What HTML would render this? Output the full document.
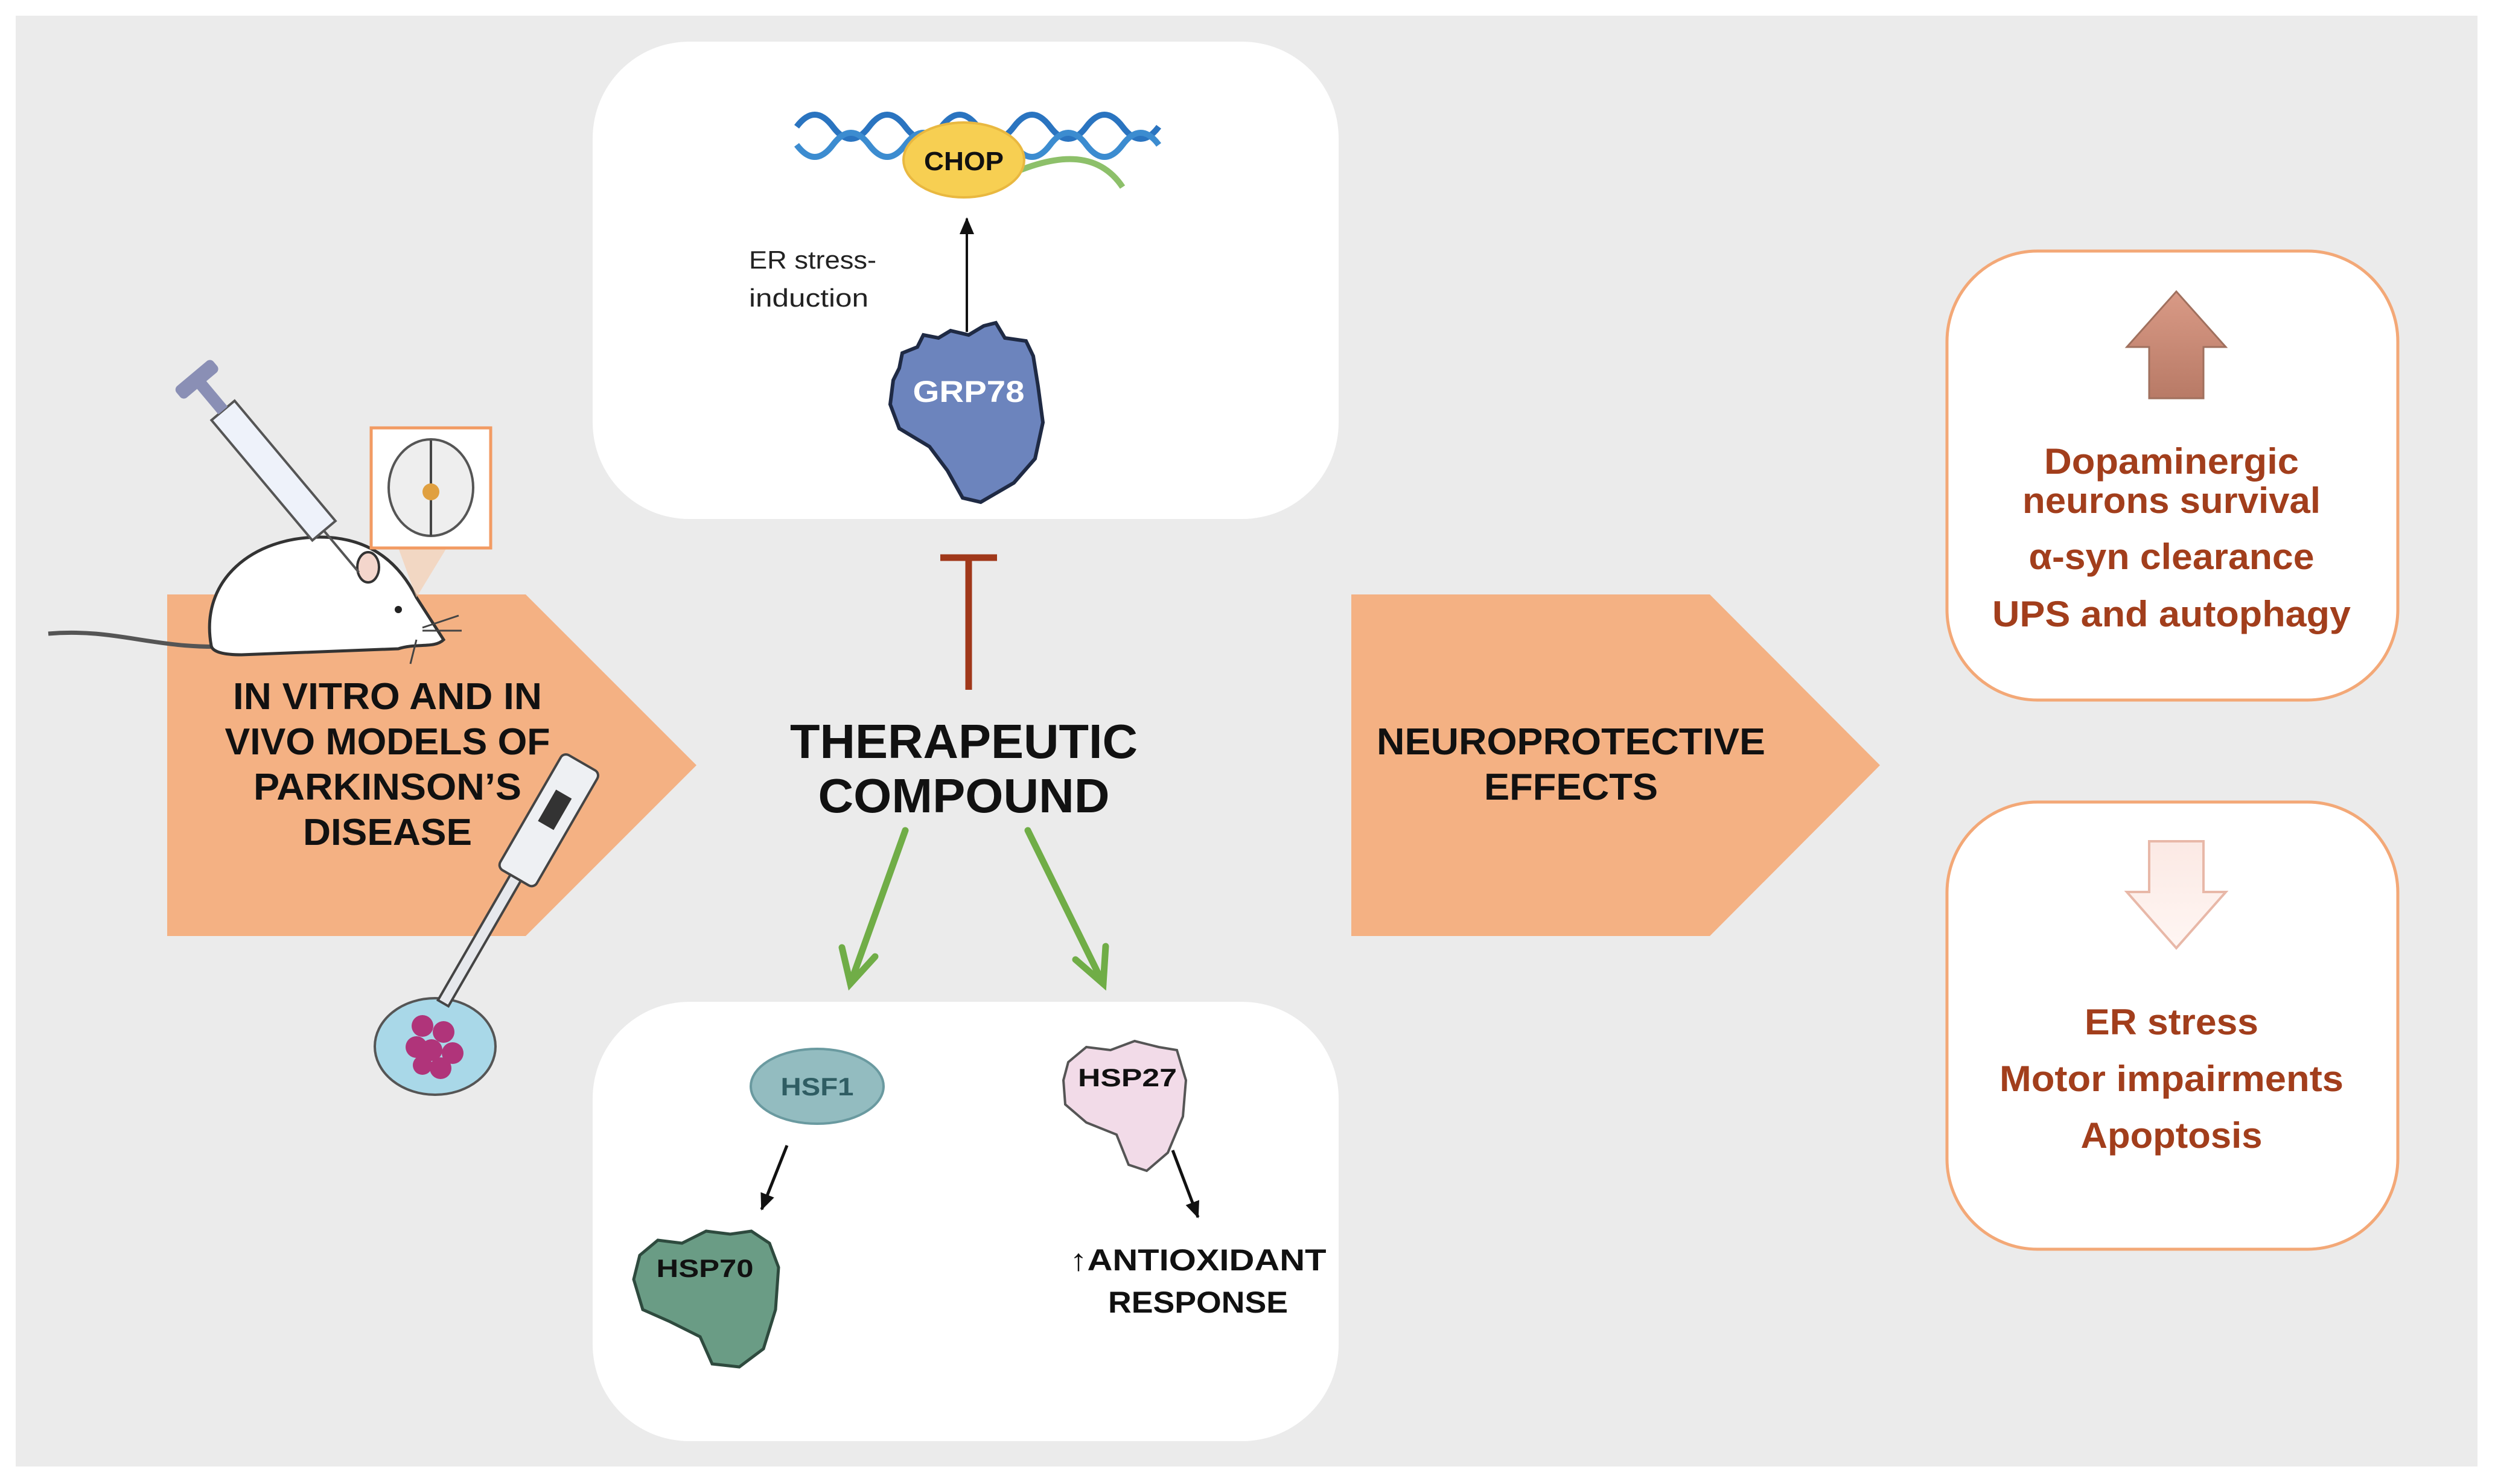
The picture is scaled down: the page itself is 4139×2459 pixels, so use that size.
<!DOCTYPE html>
<html><head><meta charset="utf-8"><style>html,body{margin:0;padding:0;background:#fff}svg{display:block}</style></head><body>
<svg width="4139" height="2459" viewBox="0 0 4139 2459" xmlns="http://www.w3.org/2000/svg" font-family="'Liberation Sans', sans-serif">
<defs>
<linearGradient id="up" x1="0" y1="0" x2="0" y2="1"><stop offset="0" stop-color="#d99a86"/><stop offset="1" stop-color="#b87a66"/></linearGradient>
<linearGradient id="dn" x1="0" y1="0" x2="0" y2="1"><stop offset="0" stop-color="#fbe9e4"/><stop offset="1" stop-color="#fff6f3"/></linearGradient>
<marker id="ab" markerWidth="28" markerHeight="24" refX="26" refY="12" orient="auto" markerUnits="userSpaceOnUse" viewBox="0 0 28 24"><path d="M0,0 L28,12 L0,24 z" fill="#111"/></marker>
</defs>
<rect x="26" y="26" width="4079" height="2404" fill="#ebebeb"/>
<rect x="982" y="69" width="1236" height="791" rx="160" fill="#fff"/>
<rect x="982" y="1660" width="1236" height="728" rx="160" fill="#fff"/>
<rect x="3226" y="416" width="747" height="744" rx="150" fill="#fff" stroke="#f3a877" stroke-width="5"/>
<rect x="3226" y="1329" width="747" height="741" rx="150" fill="#fff" stroke="#f3a877" stroke-width="5"/>
<polygon points="277,985 871,985 1154,1268 871,1551 277,1551" fill="#f4b183"/>
<polygon points="2239,985 2833,985 3115,1268 2833,1551 2239,1551" fill="#f4b183"/>
<!-- mouse -->
<path d="M80,1050 C200,1040 260,1080 400,1070" stroke="#555" stroke-width="7" fill="none"/>
<path d="M350,1070 C330,960 420,890 530,890 C610,890 660,930 690,990 L735,1060 C720,1075 690,1065 660,1075 L400,1085 C370,1085 352,1080 350,1070 z" fill="#fff" stroke="#333" stroke-width="5"/>
<ellipse cx="610" cy="940" rx="18" ry="25" fill="#f4d6cc" stroke="#333" stroke-width="4"/>
<circle cx="660" cy="1010" r="6" fill="#222"/>
<path d="M700,1040 L760,1020 M700,1045 L765,1045 M690,1060 L680,1100" stroke="#444" stroke-width="3"/>
<g transform="rotate(50 430 760)"><rect x="330" y="730" width="260" height="50" fill="#eef2fa" stroke="#555" stroke-width="4"/><rect x="270" y="745" width="60" height="20" fill="#8a8fb5"/><rect x="250" y="715" width="25" height="80" rx="8" fill="#8a8fb5"/><line x1="590" y1="755" x2="680" y2="755" stroke="#555" stroke-width="4"/></g>
<polygon points="660,908 740,908 690,990" fill="#f6c9a8" opacity="0.6"/>
<rect x="615" y="709" width="198" height="199" fill="#fff" stroke="#f29b63" stroke-width="5"/>
<ellipse cx="714" cy="808" rx="70" ry="80" fill="#eee" stroke="#555" stroke-width="4"/>
<line x1="714" y1="730" x2="714" y2="888" stroke="#444" stroke-width="4"/>
<circle cx="714" cy="815" r="14" fill="#e0a040"/>
<ellipse cx="721" cy="1734" rx="100" ry="80" fill="#a9d8e8" stroke="#555" stroke-width="4"/>
<g fill="#b0347a"><circle cx="700" cy="1700" r="18"/><circle cx="735" cy="1710" r="18"/><circle cx="715" cy="1740" r="18"/><circle cx="750" cy="1745" r="18"/><circle cx="690" cy="1735" r="18"/><circle cx="730" cy="1770" r="18"/><circle cx="700" cy="1765" r="16"/></g>
<g transform="rotate(30 880 1400)"><rect x="850" y="1240" width="70" height="220" rx="10" fill="#eef0f3" stroke="#444" stroke-width="4"/><rect x="870" y="1300" width="30" height="60" fill="#333"/><rect x="875" y="1460" width="20" height="240" fill="#e6e8ec" stroke="#444" stroke-width="4"/></g>
<g font-weight="bold" font-size="62" fill="#111" text-anchor="middle">
<text x="642" y="1175" textLength="512" lengthAdjust="spacingAndGlyphs">IN VITRO AND IN</text>
<text x="642" y="1250" textLength="539" lengthAdjust="spacingAndGlyphs">VIVO MODELS OF</text>
<text x="642" y="1325" textLength="444" lengthAdjust="spacingAndGlyphs">PARKINSON’S</text>
<text x="642" y="1400" textLength="280" lengthAdjust="spacingAndGlyphs">DISEASE</text>
<text x="1597" y="1256" font-size="80" textLength="576" lengthAdjust="spacingAndGlyphs">THERAPEUTIC</text>
<text x="1597" y="1346" font-size="80" textLength="483" lengthAdjust="spacingAndGlyphs">COMPOUND</text>
<text x="2603" y="1250" textLength="644" lengthAdjust="spacingAndGlyphs">NEUROPROTECTIVE</text>
<text x="2603" y="1325" textLength="288" lengthAdjust="spacingAndGlyphs">EFFECTS</text>
</g>
<line x1="1558" y1="924" x2="1652" y2="924" stroke="#a0381a" stroke-width="11"/>
<line x1="1605" y1="924" x2="1605" y2="1143" stroke="#a0381a" stroke-width="11"/>
<g stroke="#70ad47" stroke-width="11" fill="none" stroke-linecap="round">
<line x1="1500" y1="1376" x2="1409" y2="1630"/><polyline points="1395,1570 1409,1630 1450,1585"/>
<line x1="1703" y1="1376" x2="1828" y2="1630"/><polyline points="1782,1590 1828,1630 1832,1568"/>
</g>
<g fill="none" stroke-width="10">
<path d="M1320,210 q30,-40 60,0 t60,0 t60,0 t60,0 t60,0 t60,0 t60,0 t60,0 t60,0 t60,0" stroke="#2a74c0"/>
<path d="M1320,240 q30,40 60,0 t60,0 t60,0 t60,0 t60,0 t60,0 t60,0 t60,0 t60,0 t60,0" stroke="#3c8cd0"/>
<path d="M1650,300 C1750,250 1820,250 1860,310" stroke="#8dc06a"/>
</g>
<ellipse cx="1597" cy="265" rx="100" ry="62" fill="#f7cf52" stroke="#e9b840" stroke-width="4"/>
<text x="1597" y="282" font-size="44" font-weight="bold" text-anchor="middle" fill="#111" textLength="132" lengthAdjust="spacingAndGlyphs">CHOP</text>
<line x1="1602" y1="550" x2="1602" y2="362" stroke="#111" stroke-width="4" marker-end="url(#ab)"/>
<text x="1241" y="445" font-size="42" fill="#222" textLength="211" lengthAdjust="spacingAndGlyphs">ER stress-</text>
<text x="1241" y="508" font-size="42" fill="#222" textLength="198" lengthAdjust="spacingAndGlyphs">induction</text>
<path d="M1495,585 L1520,575 L1530,555 L1555,560 L1575,548 L1605,555 L1630,540 L1650,535 L1665,560 L1700,565 L1712,590 L1720,640 L1728,700 L1715,760 L1680,800 L1625,832 L1595,825 L1570,780 L1540,740 L1490,710 L1475,670 L1480,630 L1490,610 z" fill="#6c84bd" stroke="#1f2a44" stroke-width="6"/>
<text x="1605" y="666" font-size="50" font-weight="bold" fill="#fff" text-anchor="middle" textLength="185" lengthAdjust="spacingAndGlyphs">GRP78</text>
<ellipse cx="1354" cy="1800" rx="110" ry="62" fill="#93bcc0" stroke="#6a9aa0" stroke-width="4"/>
<text x="1354" y="1815" font-size="42" font-weight="bold" fill="#2f5d63" text-anchor="middle" textLength="121" lengthAdjust="spacingAndGlyphs">HSF1</text>
<path d="M1770,1760 L1800,1735 L1840,1740 L1880,1725 L1920,1735 L1950,1740 L1965,1790 L1960,1850 L1935,1910 L1900,1940 L1870,1930 L1850,1880 L1800,1860 L1765,1830 L1762,1790 z" fill="#f2dbe8" stroke="#555" stroke-width="4"/>
<text x="1868" y="1800" font-size="42" font-weight="bold" fill="#111" text-anchor="middle" textLength="164" lengthAdjust="spacingAndGlyphs">HSP27</text>
<path d="M1060,2080 L1090,2055 L1130,2060 L1170,2040 L1210,2045 L1245,2040 L1275,2060 L1290,2100 L1285,2170 L1265,2235 L1225,2265 L1180,2260 L1160,2215 L1110,2190 L1065,2170 L1050,2120 z" fill="#6a9c85" stroke="#2e4a3e" stroke-width="5"/>
<text x="1168" y="2116" font-size="42" font-weight="bold" fill="#111" text-anchor="middle" textLength="161" lengthAdjust="spacingAndGlyphs">HSP70</text>
<line x1="1304" y1="1898" x2="1262" y2="2004" stroke="#111" stroke-width="5" marker-end="url(#ab)"/>
<line x1="1943" y1="1906" x2="1985" y2="2017" stroke="#111" stroke-width="5" marker-end="url(#ab)"/>
<text x="1985" y="2105" font-size="50" font-weight="bold" fill="#111" text-anchor="middle" textLength="425" lengthAdjust="spacingAndGlyphs">↑ANTIOXIDANT</text>
<text x="1985" y="2175" font-size="50" font-weight="bold" fill="#111" text-anchor="middle" textLength="298" lengthAdjust="spacingAndGlyphs">RESPONSE</text>
<polygon points="3606,483 3688,575 3651,575 3651,660 3561,660 3561,575 3524,575" fill="url(#up)" stroke="#a0705e" stroke-width="3"/>
<polygon points="3561,1394 3651,1394 3651,1478 3688,1478 3606,1571 3524,1478 3561,1478" fill="url(#dn)" stroke="#e8b8a8" stroke-width="4"/>
<g font-weight="bold" font-size="60" fill="#a23e1c" text-anchor="middle">
<text x="3598" y="785" textLength="422" lengthAdjust="spacingAndGlyphs">Dopaminergic</text>
<text x="3598" y="850" textLength="494" lengthAdjust="spacingAndGlyphs">neurons survival</text>
<text x="3598" y="943" textLength="473" lengthAdjust="spacingAndGlyphs">α-syn clearance</text>
<text x="3598" y="1038" textLength="594" lengthAdjust="spacingAndGlyphs">UPS and autophagy</text>
<text x="3598" y="1714" textLength="288" lengthAdjust="spacingAndGlyphs">ER stress</text>
<text x="3598" y="1808" textLength="570" lengthAdjust="spacingAndGlyphs">Motor impairments</text>
<text x="3598" y="1902" textLength="301" lengthAdjust="spacingAndGlyphs">Apoptosis</text>
</g>
</svg>
</body></html>
